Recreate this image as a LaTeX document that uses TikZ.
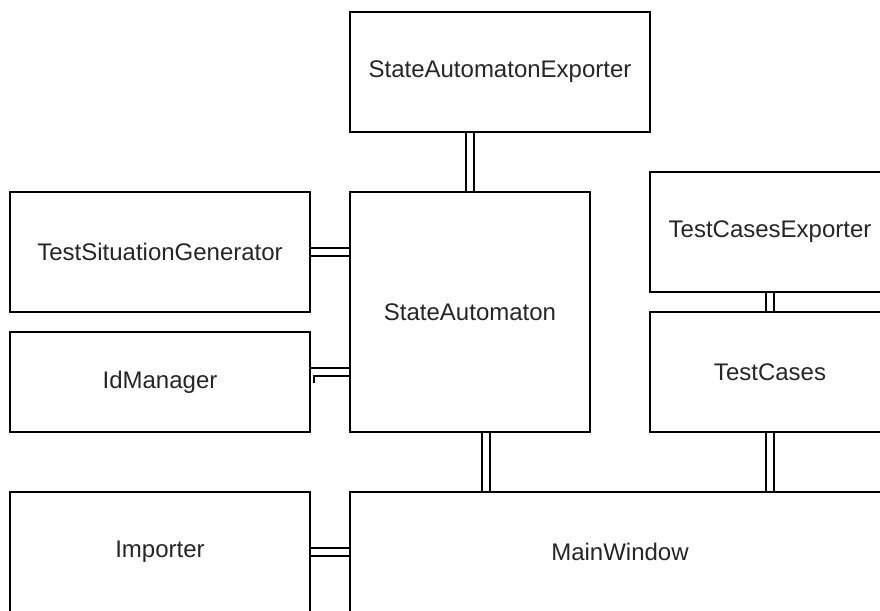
\documentclass[tikz,border=0pt]{standalone}
\usepackage{fontspec}
\setmainfont{Liberation Sans}
\usetikzlibrary{positioning,backgrounds}

\begin{document}
\begin{tikzpicture}[x=1pt,y=1pt,node distance=20pt,every node/.style={outer sep=0pt}]
\tikzstyle{classbox}=[draw,fill=white,line width=1.6pt,minimum width=300pt,minimum height=120pt,align=center,text=black!85,font=\fontsize{24}{28}\selectfont]
\tikzstyle{link}=[double,double distance=6pt,line width=2pt]
\useasboundingbox (0,0) rectangle (880,-610);
\clip (0,0) rectangle (880,-610);
\node[classbox,minimum width=240pt,minimum height=240pt] (sa) at (470,-312) {StateAutomaton};
\node[classbox,above=60pt of sa.north west,anchor=south west] (sae) {StateAutomatonExporter};
\node[classbox,left=40pt of sa.north west,anchor=north east] (tsg) {TestSituationGenerator};
\node[classbox,below=of tsg,minimum height=100pt] (idm) {IdManager};
\node[classbox,above right=20pt and 60pt of sa.north east,anchor=north west,minimum width=240pt] (tce) {TestCasesExporter};
\node[classbox,below=of tce,minimum width=240pt] (tc) {TestCases};
\node[classbox,below=60pt of sa.south west,anchor=north west,minimum width=540pt] (mw) {MainWindow};
\node[classbox,left=40pt of mw.north west,anchor=north east] (imp) {Importer};
\coordinate (idbend) at ([yshift=10pt]idm.east);
% connectors behind the boxes
\begin{scope}[on background layer]
\draw[link] (sa.north) -- (sa.north |- sae.south);
\draw[link] (tsg.east) -- (tsg.east -| sa.west);
\draw[link] (idbend -| sa.west) -- (idbend) -- ([yshift=-1pt]idm.east);
\draw[link] (tce) -- (tc);
\draw[link] ([xshift=16pt]sa.south) -- ([xshift=16pt]sa.south |- mw.north);
\draw[link] (tc.south) -- (tc.south |- mw.north);
\draw[link] (imp.east) -- (imp.east -| mw.west);
\end{scope}
\end{tikzpicture}
\end{document}
